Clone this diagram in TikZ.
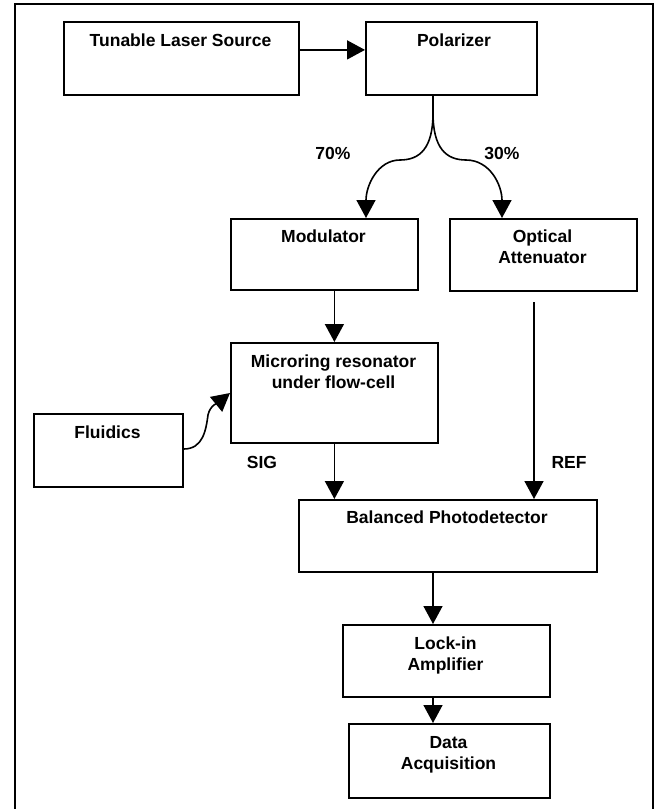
\documentclass[tikz,border=0pt]{standalone}
\usepackage{fontspec}
\setmainfont{Liberation Sans}
\usetikzlibrary{arrows.meta}
\tikzset{
  box/.style={draw, line width=1.8pt, inner sep=0pt, anchor=north west},
  txt/.style={font=\bfseries\fontsize{17.5}{21}\selectfont, inner sep=0pt, align=center},
  arr/.style={line width=1.6pt, -{Triangle[length=18pt,width=19pt]}},
  link/.style={line width=1.6pt},
  frame/.style={line width=2.6pt}
}
\begin{document}
\begin{tikzpicture}[x=1pt,y=-1pt]
\useasboundingbox (0,0) rectangle (668,809);
\draw[frame] (15,809) -- (15,4) -- (653,4) -- (653,809);

% boxes
\node[box, minimum width=235pt, minimum height=73pt] (tls) at (63,21) {};
\node[box, minimum width=171pt, minimum height=73pt] (pol) at (365,21) {};
\node[box, minimum width=187pt, minimum height=71pt] (mod) at (230,218) {};
\node[box, minimum width=187pt, minimum height=72pt] (att) at (449,218) {};
\node[box, minimum width=207pt, minimum height=100pt] (mr) at (230,342) {};
\node[box, minimum width=149pt, minimum height=73pt] (fl) at (33,413) {};
\node[box, minimum width=298pt, minimum height=72pt] (bp) at (298,499) {};
\node[box, minimum width=207pt, minimum height=72pt] (li) at (342,624) {};
\node[box, minimum width=201pt, minimum height=74pt] (da) at (348,723) {};

% texts
\node[txt, anchor=base] (tlsT) at (180.5,46) {Tunable Laser Source};
\node[txt, anchor=base] (polT) at (454,46) {Polarizer};
\node[txt, anchor=base] (modT) at (323.5,242) {Modulator};
\node[txt, anchor=north] (attT) at (542.5,229.4) {Optical\\Attenuator};
\node[txt, anchor=north] (mrT) at (333.5,354.4) {Microring resonator\\under flow-cell};
\node[txt, anchor=base] (flT) at (107.5,438) {Fluidics};
\node[txt, anchor=base] (bpT) at (447,523) {Balanced Photodetector};
\node[txt, anchor=north] (liT) at (445.5,636.4) {Lock-in\\Amplifier};
\node[txt, anchor=north] (daT) at (448.5,736.4) {Data\\Acquisition};

% labels
\node[txt, anchor=base] (p70) at (333,159) {70\%};
\node[txt, anchor=base] (p30) at (502,159) {30\%};
\node[txt, anchor=base] (sig) at (262,468) {SIG};
\node[txt, anchor=base] (ref) at (569,468) {REF};

% connectors
\draw[arr] ([yshift=8.5pt]tls.east) -- ([yshift=8.5pt]pol.west);
\coordinate (split) at (433,113);
\draw[link] (pol.south -| split) -- (split);
\draw[arr] (split) .. controls (433,148) and (420,160) .. (400,160)
  .. controls (378,160) and (366,185) .. (mod.north -| 366,0);
\draw[arr] (split) .. controls (433,148) and (446,160) .. (466,160)
  .. controls (490,160) and (502,185) .. (att.north -| 502,0);
\draw[arr] (mod.south -| mr.north) -- (mr.north);
\draw[arr] (fl.east |- 0,449) .. controls (203,449) and (206,430) .. (208,415)
  .. controls (210,405) and (219,402) .. (mr.west |- 0,393);
\draw[arr] (mr.south) -- (mr.south |- bp.north);
\coordinate (refstart) at (534,302);
\draw[arr] (refstart) -- (bp.north -| refstart);
\draw[arr] (bp.south -| split) -- (li.north -| split);
\draw[arr] (li.south -| split) -- (da.north -| split);
\end{tikzpicture}
\end{document}
